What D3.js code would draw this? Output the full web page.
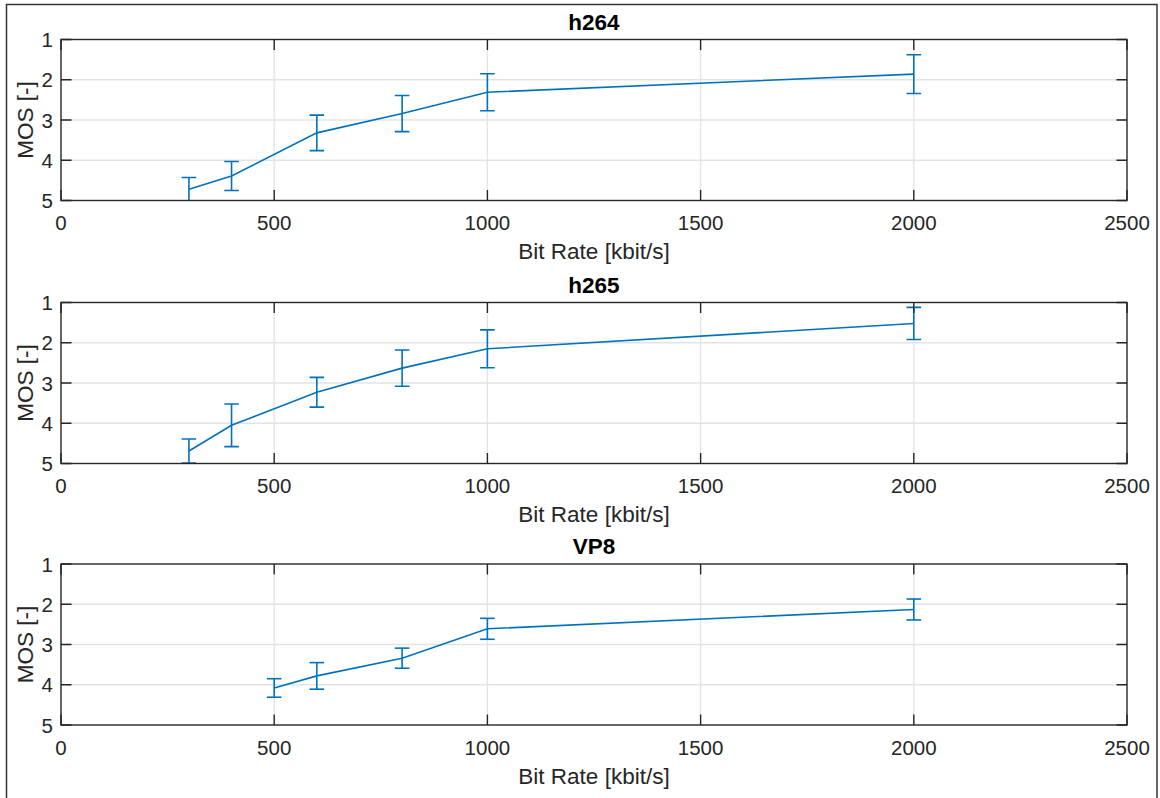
<!DOCTYPE html>
<html>
<head>
<meta charset="utf-8">
<script src="https://cdn.jsdelivr.net/npm/d3@7"></script>
<style>
  body { margin: 0; background: #fff; }
  svg text { font-family: "Liberation Sans", Arial, sans-serif; fill: #262626; }
</style>
</head>
<body>
<svg id="fig" width="1160" height="798"></svg>
<script>
// DATA
const codecs = ["h264", "h265", "VP8"];
const bitRates = {
  h264: [300, 400, 600, 800, 1000, 2000],
  h265: [300, 400, 600, 800, 1000, 2000],
  VP8: [500, 600, 800, 1000, 2000]
};
const mosMean = {
  h264: [4.72, 4.39, 3.32, 2.84, 2.31, 1.86],
  h265: [4.69, 4.05, 3.23, 2.63, 2.15, 1.52],
  VP8: [4.08, 3.78, 3.34, 2.61, 2.13]
};
const mosErr = {
  h264: [0.29, 0.36, 0.44, 0.45, 0.46, 0.48],
  h265: [0.30, 0.53, 0.37, 0.45, 0.47, 0.40],
  VP8: [0.23, 0.33, 0.25, 0.26, 0.26]
};
const xTicks = [0, 500, 1000, 1500, 2000, 2500];
const yTicks = [1, 2, 3, 4, 5];

//SETUP
const svg = d3.select("#fig");
const left = 61, right = 1127, plotH = 161;
const tops = [39.5, 302.5, 564];
const blue = "#0072BD";
const tickLen = 10.5;

// figure frame
svg.append("rect")
  .attr("x", 6.5).attr("y", 4.5)
  .attr("width", 1150.5).attr("height", 820)
  .attr("fill", "none").attr("stroke", "#333").attr("stroke-width", 1.5);

var xScale = d3.scaleLinear().domain([0, 2500]).range([left, right]);

codecs.forEach((name, i) => {
  const top = tops[i];
  const bottom = top + plotH;
  var yScale = d3.scaleLinear().domain([1, 5]).range([top, bottom]);
  const g = svg.append("g");

  // grid
  g.selectAll(".gx").data(xTicks.slice(1, -1)).enter().append("line")
    .attr("x1", d => xScale(d)).attr("x2", d => xScale(d))
    .attr("y1", top).attr("y2", bottom)
    .attr("stroke", "#e3e3e3").attr("stroke-width", 1.3);
  g.selectAll(".gy").data(yTicks.slice(1, -1)).enter().append("line")
    .attr("x1", left).attr("x2", right)
    .attr("y1", d => yScale(d)).attr("y2", d => yScale(d))
    .attr("stroke", "#e3e3e3").attr("stroke-width", 1.3);

  // clip
  svg.append("clipPath").attr("id", "clip" + i)
    .append("rect").attr("x", left).attr("y", top)
    .attr("width", right - left).attr("height", plotH);

  const pts = bitRates[name].map((b, k) => ({ x: b, y: mosMean[name][k], e: mosErr[name][k] }));
  const data = g.append("g").attr("clip-path", `url(#clip${i})`);

  data.append("path")
    .datum(pts)
    .attr("fill", "none").attr("stroke", blue).attr("stroke-width", 1.6)
    .attr("d", d3.line().x(d => xScale(d.x)).y(d => yScale(d.y)));

  const eb = data.selectAll(".eb").data(pts).enter().append("g")
    .attr("stroke", blue).attr("stroke-width", 1.6);
  eb.append("line")
    .attr("x1", d => xScale(d.x)).attr("x2", d => xScale(d.x))
    .attr("y1", d => yScale(d.y - d.e)).attr("y2", d => yScale(d.y + d.e));
  eb.append("line")
    .attr("x1", d => xScale(d.x) - 7.3).attr("x2", d => xScale(d.x) + 7.3)
    .attr("y1", d => yScale(d.y - d.e)).attr("y2", d => yScale(d.y - d.e));
  eb.append("line")
    .attr("x1", d => xScale(d.x) - 7.3).attr("x2", d => xScale(d.x) + 7.3)
    .attr("y1", d => yScale(d.y + d.e)).attr("y2", d => yScale(d.y + d.e));

  // box + inward ticks
  const axisCol = "#262626";
  g.append("rect")
    .attr("x", left).attr("y", top).attr("width", right - left).attr("height", plotH)
    .attr("fill", "none").attr("stroke", axisCol).attr("stroke-width", 1.4);
  g.selectAll(".tx").data(xTicks).enter().append("path")
    .attr("d", d => `M${xScale(d)},${bottom}v${-tickLen}M${xScale(d)},${top}v${tickLen}`)
    .attr("stroke", axisCol).attr("stroke-width", 1.4);
  g.selectAll(".ty").data(yTicks).enter().append("path")
    .attr("d", d => `M${left},${yScale(d)}h${tickLen}M${right},${yScale(d)}h${-tickLen}`)
    .attr("stroke", axisCol).attr("stroke-width", 1.4);

  // tick labels
  g.selectAll(".lx").data(xTicks).enter().append("text")
    .attr("x", d => xScale(d)).attr("y", bottom + 29.5)
    .attr("text-anchor", "middle").attr("font-size", "20.5px")
    .text(d => d);
  g.selectAll(".ly").data(yTicks).enter().append("text")
    .attr("x", left - 8).attr("y", d => yScale(d) + 7.5)
    .attr("text-anchor", "end").attr("font-size", "20.5px")
    .text(d => d);

  // labels
  g.append("text")
    .attr("x", (left + right) / 2).attr("y", bottom + 58.5)
    .attr("text-anchor", "middle").attr("font-size", "22.5px")
    .text("Bit Rate [kbit/s]");
  g.append("text")
    .attr("transform", `translate(33,${(top + bottom) / 2}) rotate(-90)`)
    .attr("text-anchor", "middle").attr("font-size", "22.5px")
    .text("MOS [-]");
  g.append("text")
    .attr("x", (left + right) / 2).attr("y", top - 10)
    .attr("text-anchor", "middle").attr("font-size", "22.5px")
    .attr("font-weight", "bold").style("fill", "#000")
    .text(name);
});
</script>
</body>
</html>
